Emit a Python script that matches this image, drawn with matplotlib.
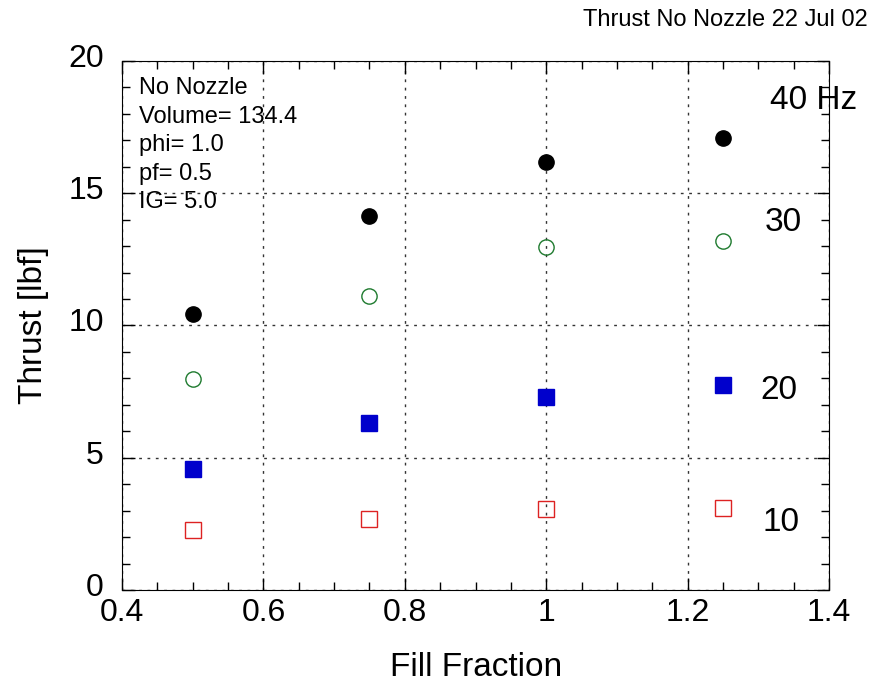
import matplotlib

matplotlib.use("Agg")

import matplotlib.pyplot as plt
import matplotlib.transforms as mtransforms
from matplotlib.ticker import MultipleLocator

plt.rcParams["font.family"] = ["Liberation Sans", "DejaVu Sans"]

fill = [0.5, 0.75, 1.0, 1.25]
thrust_40 = [10.43, 14.14, 16.18, 17.09]
thrust_30 = [7.98, 11.12, 12.97, 13.19]
thrust_20 = [4.57, 6.31, 7.30, 7.75]
thrust_10 = [2.27, 2.68, 3.06, 3.10]

freq_labels = ["40 Hz", "30", "20", "10"]
label_pos = [(1.316, 18.5), (1.309, 13.9), (1.302, 7.55), (1.305, 2.55)]

info = "No Nozzle\nVolume= 134.4\nphi= 1.0\npf= 0.5\nIG= 5.0"

fig = plt.figure(figsize=(8.71, 6.83), dpi=100)
ax = fig.add_axes([0.140, 0.136, 0.812, 0.775])

ax.plot(fill, thrust_40, "o", color="black", markersize=11, linestyle="none")
ax.plot(fill, thrust_30, "o", markerfacecolor="none", markeredgecolor="#1e7a2e",
        markersize=11, markeredgewidth=1.0, linestyle="none")
ax.plot(fill, thrust_20, "s", color="#0000cc", markersize=11, linestyle="none")
ax.plot(fill, thrust_10, "s", markerfacecolor="none", markeredgecolor="#dd2222",
        markersize=11, markeredgewidth=1.0, linestyle="none")

for lab, (x, y) in zip(freq_labels, label_pos):
    ax.text(x, y, lab, fontsize=24, va="center", ha="left", clip_on=False)

info_tr = ax.transAxes + mtransforms.ScaledTranslation(12 / 72, -12 / 72, fig.dpi_scale_trans)
ax.text(0, 1, info, transform=info_tr, fontsize=17, va="top", ha="left", linespacing=1.38)

ax.set_xlim(0.4, 1.4)
ax.set_ylim(0, 20)
ax.xaxis.set_major_locator(MultipleLocator(0.2))
ax.xaxis.set_minor_locator(MultipleLocator(0.05))
ax.yaxis.set_major_locator(MultipleLocator(5))
ax.yaxis.set_minor_locator(MultipleLocator(1))
ax.set_xticks([0.4, 0.6, 0.8, 1.0, 1.2, 1.4])
ax.set_xticklabels(["0.4", "0.6", "0.8", "1", "1.2", "1.4"])
ax.tick_params(which="both", direction="in", top=True, right=True, labelsize=23)
ax.tick_params(which="major", length=9, width=1)
ax.tick_params(which="minor", length=6, width=1)
ax.tick_params(axis="x", pad=6)
ax.tick_params(axis="y", pad=13)
ax.grid(True, which="major", linestyle=(0, (2, 4)), color="#333333", linewidth=1)

# y tick labels sit a little above their ticks in the original
shift = mtransforms.ScaledTranslation(0, 4 / 72, fig.dpi_scale_trans)
for lbl in ax.get_yticklabels():
    lbl.set_transform(lbl.get_transform() + shift)

ax.set_xlabel("Fill Fraction", fontsize=24, labelpad=17)
ax.set_ylabel("Thrust [lbf]", fontsize=24, labelpad=14)

fig.text(0.9966, 0.971, "Thrust No Nozzle 22 Jul 02", fontsize=17, ha="right", va="center")

fig.savefig("out.png", dpi=100)
plt.close(fig)
